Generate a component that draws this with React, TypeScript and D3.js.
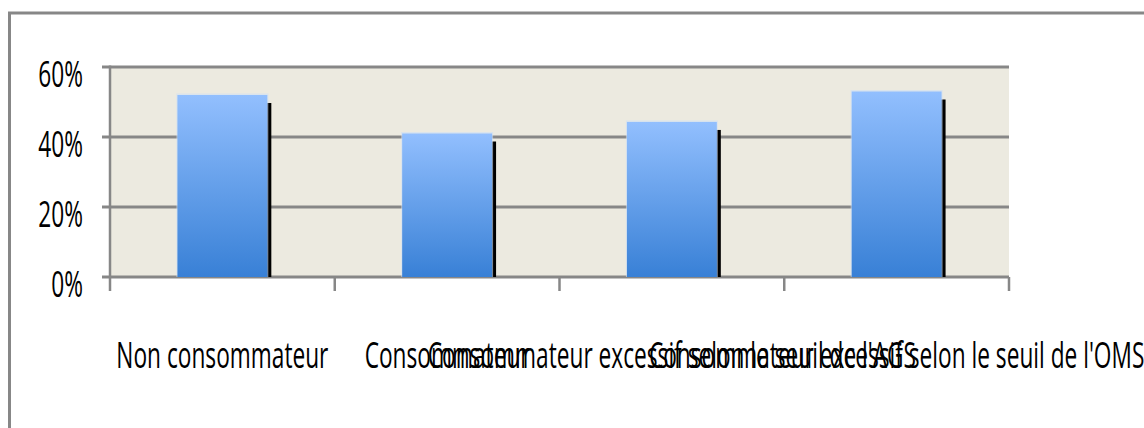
import React, { useLayoutEffect, useRef, useState } from "react";
import * as d3 from "d3";

const categories = [
  "Non consommateur",
  "Consommateur",
  "Consommateur excessif selon le seuil de l'AGS",
  "Consommateur excessif selon le seuil de l'OMS",
];
const values = [0.52, 0.41, 0.443, 0.53];
const yTicks = [0, 0.2, 0.4, 0.6];

const W = 1144;
const H = 428;
const margin = { left: 110, right: 135, top: 67, bottom: 151 };

export default function App() {
  const measureRef = useRef<SVGTextElement>(null);
  const [k, setK] = useState(0.6);

  useLayoutEffect(() => {
    if (measureRef.current) {
      const w = measureRef.current.getComputedTextLength();
      if (w > 0) setK(212 / w);
    }
  }, []);

  const x = d3
    .scaleBand<string>()
    .domain(categories)
    .range([margin.left, W - margin.right])
    .paddingInner(0)
    .paddingOuter(0);
  const y = d3.scaleLinear().domain([0, 0.6]).range([H - margin.bottom, margin.top]);

  const bw = x.bandwidth() * 0.4;
  const x0 = margin.left;
  const x1 = W - margin.right;
  const y0 = y(0);
  const grid = "#878787";
  const font = "'Open Sans', sans-serif";
  const fs = 36;

  return (
    <svg
      width={W}
      height={H}
      style={{ position: "absolute", left: 0, top: 0, display: "block" }}
    >
      <defs>
        <linearGradient id="barGrad" x1="0" y1="0" x2="0" y2="1">
          <stop offset="0%" stopColor="#92BFFE" />
          <stop offset="100%" stopColor="#3880D6" />
        </linearGradient>
        <filter id="blur1" x="-20%" y="-5%" width="140%" height="110%">
          <feGaussianBlur stdDeviation="0.7" />
        </filter>
      </defs>
      <rect width={W} height={H} fill="#ffffff" />
      {/* outer border */}
      <rect x={9.5} y={13} width={1300} height={600} fill="none" stroke="#878787" strokeWidth={3} />
      {/* plot background */}
      <rect x={x0} y={y(0.6)} width={x1 - x0} height={y0 - y(0.6)} fill="#ECEAE0" />
      {/* gridlines */}
      {yTicks.map((t) => (
        <line key={"g" + t} x1={x0 - 8} x2={x1} y1={y(t)} y2={y(t)} stroke={grid} strokeWidth={3} />
      ))}
      {/* left axis */}
      <line x1={x0} x2={x0} y1={y(0.6) - 1.5} y2={y0 + 14} stroke={grid} strokeWidth={2.5} />
      {/* category ticks */}
      {categories.map((c) => (
        <line key={"t" + c} x1={(x(c) as number) + x.bandwidth()} x2={(x(c) as number) + x.bandwidth()} y1={y0} y2={y0 + 14} stroke={grid} strokeWidth={2.5} />
      ))}
      {/* bars */}
      {categories.map((c, i) => {
        const cx = (x(c) as number) + x.bandwidth() / 2;
        const bx = cx - bw / 2;
        const by = y(values[i]);
        return (
          <g key={"b" + c}>
            <rect x={bx + bw - 1} y={by + 8} width={5} height={y0 - by - 8} fill="#000" filter="url(#blur1)" />
            <rect x={bx - 1} y={by - 1.5} width={bw + 2} height={y0 - by + 1.5} fill="#cfe0f5" opacity={0.6} />
            <rect x={bx} y={by} width={bw} height={y0 - by} fill="url(#barGrad)" />
          </g>
        );
      })}
      {/* y labels */}
      {yTicks.map((t) => (
        <text
          key={"yl" + t}
          transform={`translate(83, ${y(t) + 19.5}) scale(${k}, 1)`}
          textAnchor="end"
          fontFamily={font}
          fontSize={fs}
          fill="#000"
        >
          {d3.format(".0%")(t)}
        </text>
      ))}
      {/* x labels */}
      {categories.map((c, i) => (
        <text
          key={"xl" + c}
          ref={i === 0 ? measureRef : undefined}
          transform={`translate(${(x(c) as number) + x.bandwidth() / 2}, 368) scale(${k}, 1)`}
          textAnchor="middle"
          fontFamily={font}
          fontSize={fs}
          fill="#000"
        >
          {c}
        </text>
      ))}
    </svg>
  );
}
